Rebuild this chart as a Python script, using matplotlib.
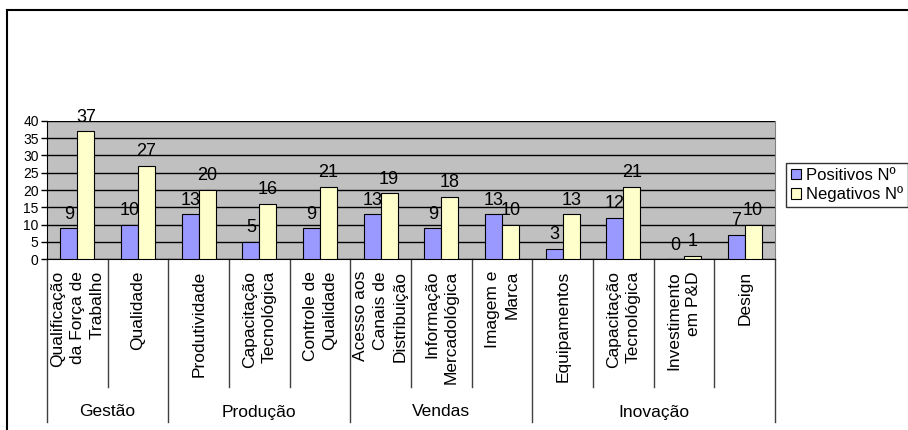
import matplotlib.pyplot as plt
import numpy as np
from matplotlib.transforms import blended_transform_factory

plt.rcParams['font.family'] = ['Liberation Sans', 'DejaVu Sans']

groups = ['Gestão', 'Produção', 'Vendas', 'Inovação']
group_sizes = [2, 3, 3, 4]
categories = [
    'Qualificação\nda Força de\nTrabalho',
    'Qualidade',
    'Produtividade',
    'Capacitação\nTecnológica',
    'Controle de\nQualidade',
    'Acesso aos\nCanais de\nDistribuição',
    'Informação\nMercadológica',
    'Imagem e\nMarca',
    'Equipamentos',
    'Capacitação\nTecnológica',
    'Investimento\nem P&D',
    'Design',
]
positivos = [9, 10, 13, 5, 9, 13, 9, 13, 3, 12, 0, 7]
negativos = [37, 27, 20, 16, 21, 19, 18, 10, 13, 21, 1, 10]
yticks = [0, 5, 10, 15, 20, 25, 30, 35, 40]

W, H = 908, 430
fig = plt.figure(figsize=(W / 100, H / 100), dpi=100)
# plot area in pixels: x 47..775, y 120.7..259
x0, x1, ytop, ybot = 47, 775, 120.7, 259.3
ax = fig.add_axes([x0 / W, 1 - ybot / H, (x1 - x0) / W, (ybot - ytop) / H])
ax.set_facecolor('#C0C0C0')

n = len(categories)
x = np.arange(n)
bw = 0.28
b1 = ax.bar(x - bw / 2, positivos, bw, color='#9999FF', edgecolor='black', linewidth=0.8,
            label='Positivos Nº', zorder=3)
b2 = ax.bar(x + bw / 2, negativos, bw, color='#FFFFCC', edgecolor='black', linewidth=0.8,
            label='Negativos Nº', zorder=3)

for xi, v in zip(x - bw / 2, positivos):
    ax.annotate(str(v), (xi, v), xytext=(0, 4), textcoords='offset points',
                ha='center', va='bottom', fontsize=13)
for xi, v in zip(x + bw / 2, negativos):
    ax.annotate(str(v), (xi, v), xytext=(0, 4), textcoords='offset points',
                ha='center', va='bottom', fontsize=13)

ax.set_xlim(-0.5, n - 0.5)
ax.set_ylim(0, 40)
ax.set_yticks(yticks)
ax.tick_params(axis='y', labelsize=10, length=4, width=1, pad=2)
ax.set_xticks([])
ax.grid(axis='y', color='black', linewidth=1, zorder=1)
ax.set_axisbelow(True)
ax.spines['top'].set_visible(False)
ax.spines['right'].set_color('#808080')
ax.spines['left'].set_color('black')
ax.spines['bottom'].set_color('black')

# axis labels below the plot
apx = ybot - ytop
def px(p):
    # pixel y (image coords) -> axes fraction
    return (ybot - p) / apx

tr = blended_transform_factory(ax.transData, ax.transAxes)
for xi, lab in zip(x, categories):
    ax.text(xi, px(271), lab, transform=tr, rotation=90, ha='center', va='top',
            multialignment='right', fontsize=12.5, linespacing=1.4)

bounds = np.cumsum([0] + group_sizes) - 0.5
for i in range(n + 1):
    b = i - 0.5
    if b in bounds:
        ax.plot([b, b], [0, px(422)], transform=tr, color='#404040', lw=1, clip_on=False)
    else:
        ax.plot([b, b], [0, px(387)], transform=tr, color='#404040', lw=1, clip_on=False)
for g, a, bnd in zip(groups, bounds[:-1], bounds[1:]):
    ax.text((a + bnd) / 2, px(412), g, transform=tr, ha='center', va='center', fontsize=12.5)

leg = fig.legend(handles=[b1, b2], loc='upper left', bbox_to_anchor=(786 / W, 1 - 163 / H),
                 fontsize=12, frameon=True, fancybox=False, edgecolor='black',
                 handlelength=0.6, handleheight=0.6, handletextpad=0.3,
                 borderpad=0.3, labelspacing=0.2, borderaxespad=0)
leg.get_frame().set_linewidth(1)

# outer chart frame
fig.add_artist(plt.Line2D([7 / W, 7 / W], [0, 1 - 10 / H], color='black', lw=1.5))
fig.add_artist(plt.Line2D([7 / W, 1], [1 - 10 / H, 1 - 10 / H], color='black', lw=1.5))

fig.savefig('out.png', dpi=100)
